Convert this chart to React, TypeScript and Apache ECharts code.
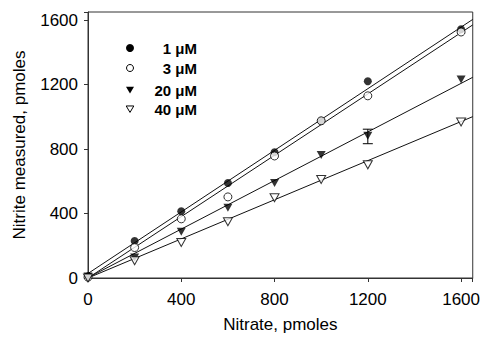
import React, { useEffect, useRef } from "react";
import * as echarts from "echarts";

const nitrate = [0, 200, 400, 600, 800, 1000, 1200, 1600];
const s1uM = [10, 230, 414, 589, 780, 975, 1220, 1543];
const s3uM = [5, 189, 367, 503, 757, 975, 1130, 1526];
const s20uM = [10, 127, 287, 435, 589, 763, 882, 1231];
const s40uM = [0, 107, 220, 349, 498, 611, 702, 968];
const seriesNames = ["1 \u03bcM", "3 \u03bcM", "20 \u03bcM", "40 \u03bcM"];
// regression line endpoints [x0, y0, x1, y1]
const fit1 = [0, 28, 1650, 1604];
const fit3 = [0, 0, 1650, 1570];
const fit20 = [0, 2, 1650, 1245];
const fit40 = [0, 0, 1650, 1001];
// error bar: [x, low, high]
const errorBar = [1200, 833, 923];
const tickValues = [0, 400, 800, 1200, 1600];

const FONT = "Liberation Sans, Arial, sans-serif";

export default function App() {
  const ref = useRef<HTMLDivElement>(null);
  useEffect(() => {
    if (!ref.current) return;
    const chart = echarts.init(ref.current, undefined, { renderer: "svg" });
    const pts = (ys: number[]) => nitrate.map((x, i) => [x, ys[i]]);
    const fitLine = (f: number[], name: string) => ({
      type: "line",
      name,
      data: [[f[0], f[1]], [f[2], f[3]]],
      showSymbol: false,
      symbol: "none",
      lineStyle: { color: "#111", width: 1 },
      z: 2,
      silent: true,
    });
    const legendX = 130;
    const legendTextX = 197;
    const legendYs = [48, 68, 90, 109];
    const tri = (cx: number, cy: number, s: number) => [
      [cx - s, cy - s * 0.8],
      [cx + s, cy - s * 0.8],
      [cx, cy + s * 0.9],
    ];
    const legendGraphics: any[] = [];
    legendGraphics.push({ type: "circle", shape: { cx: legendX, cy: legendYs[0], r: 4 }, style: { fill: "#000" } });
    legendGraphics.push({ type: "circle", shape: { cx: legendX, cy: legendYs[1], r: 3.5 }, style: { fill: "#fff", stroke: "#000", lineWidth: 1 } });
    legendGraphics.push({ type: "polygon", shape: { points: tri(legendX, legendYs[2], 4) }, style: { fill: "#000" } });
    legendGraphics.push({ type: "polygon", shape: { points: tri(legendX, legendYs[3], 3.8) }, style: { fill: "#fff", stroke: "#000", lineWidth: 1 } });
    seriesNames.forEach((n, i) => {
      legendGraphics.push({
        type: "text",
        x: legendTextX,
        y: legendYs[i],
        style: { text: n, font: `bold 15px ${FONT}`, fill: "#000", align: "right", verticalAlign: "middle" },
      });
    });

    chart.setOption({
      animation: false,
      backgroundColor: "#fff",
      grid: { left: 88, right: 10, top: 12, bottom: 58, show: true, borderColor: "#333", borderWidth: 1 },
      xAxis: {
        type: "value",
        min: 0,
        max: 1650,
        interval: 400,
        name: "Nitrate, pmoles",
        nameLocation: "middle",
        nameGap: 38,
        nameTextStyle: { fontFamily: FONT, fontSize: 17, color: "#000" },
        axisLine: { show: true, lineStyle: { color: "#333" } },
        axisTick: { show: true, length: 4, lineStyle: { color: "#333" } },
        axisLabel: {
          fontFamily: FONT,
          fontSize: 17,
          color: "#000",
          margin: 13,
          formatter: (v: number) => (tickValues.includes(v) ? String(v) : ""),
        },
        splitLine: { show: false },
      },
      yAxis: {
        type: "value",
        min: 0,
        max: 1650,
        interval: 400,
        name: "Nitrite measured, pmoles",
        nameLocation: "middle",
        nameGap: 60,
        nameTextStyle: { fontFamily: FONT, fontSize: 17, color: "#000" },
        axisLine: { show: true, lineStyle: { color: "#333" } },
        axisTick: { show: true, length: 4, lineStyle: { color: "#333" } },
        axisLabel: {
          fontFamily: FONT,
          fontSize: 17,
          color: "#000",
          margin: 10,
          formatter: (v: number) => (tickValues.includes(v) ? String(v) : ""),
        },
        splitLine: { show: false },
      },
      graphic: legendGraphics,
      series: [
        fitLine(fit1, "fit1"),
        fitLine(fit3, "fit3"),
        fitLine(fit20, "fit20"),
        fitLine(fit40, "fit40"),
        {
          type: "custom",
          name: "error",
          z: 3,
          data: [errorBar],
          renderItem: (params: any, api: any) => {
            const top = api.coord([api.value(0), api.value(2)]);
            const bot = api.coord([api.value(0), api.value(1)]);
            const w = 5;
            const st = { stroke: "#000", lineWidth: 1 };
            return {
              type: "group",
              children: [
                { type: "line", shape: { x1: top[0], y1: top[1], x2: bot[0], y2: bot[1] }, style: st },
                { type: "line", shape: { x1: top[0] - w, y1: top[1], x2: top[0] + w, y2: top[1] }, style: st },
                { type: "line", shape: { x1: bot[0] - w, y1: bot[1], x2: bot[0] + w, y2: bot[1] }, style: st },
              ],
            };
          },
        },
        {
          type: "scatter",
          name: seriesNames[0],
          data: pts(s1uM),
          symbol: "circle",
          symbolSize: 8,
          itemStyle: { color: "#000" },
          z: 4,
        },
        {
          type: "scatter",
          name: seriesNames[1],
          data: pts(s3uM),
          symbol: "circle",
          symbolSize: 8,
          itemStyle: { color: "#fff", borderColor: "#000", borderWidth: 1 },
          z: 5,
        },
        {
          type: "scatter",
          name: seriesNames[2],
          data: pts(s20uM),
          symbol: "triangle",
          symbolRotate: 180,
          symbolSize: [9, 8],
          itemStyle: { color: "#000" },
          z: 6,
        },
        {
          type: "scatter",
          name: seriesNames[3],
          data: pts(s40uM),
          symbol: "triangle",
          symbolRotate: 180,
          symbolSize: [9, 8],
          itemStyle: { color: "#fff", borderColor: "#000", borderWidth: 1 },
          z: 7,
        },
      ],
    });
    return () => chart.dispose();
  }, []);
  return <div ref={ref} style={{ width: 483, height: 338, position: "absolute", left: 0, top: 0 }} />;
}
